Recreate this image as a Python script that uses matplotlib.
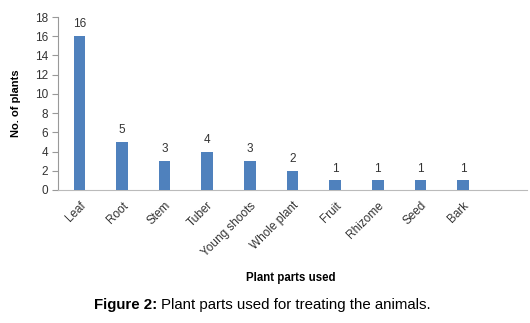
import matplotlib
matplotlib.use("Agg")
import matplotlib.pyplot as plt

categories = ["Leaf", "Root", "Stem", "Tuber", "Young shoots", "Whole plant",
              "Fruit", "Rhizome", "Seed", "Bark"]
values = [16, 5, 3, 4, 3, 2, 1, 1, 1, 1]
yticks = [0, 2, 4, 6, 8, 10, 12, 14, 16, 18]

plt.rcParams['font.family'] = ['Liberation Sans', 'DejaVu Sans']

fig = plt.figure(figsize=(5.3, 3.23), dpi=100)
ax = fig.add_axes([58/530, 1-190/323, (527-58)/530, (190-17)/323])

x = list(range(len(categories)))
ax.bar(x, values, width=0.27, color="#4F81BD", zorder=3)
for xi, v in zip(x, values):
    ax.text(xi, v + 0.6, str(v), ha="center", va="bottom", fontsize=8.5, color="#333333")

ax.set_xlim(-0.5, 10.5)
ax.set_ylim(0, 18)
ax.set_yticks(yticks)
ax.set_yticklabels([str(t) for t in yticks], fontsize=8.5, color="#333333")
ax.set_xticks(x)
ax.set_xticklabels(categories, rotation=45, ha="right", rotation_mode="anchor",
                   fontsize=8.5, color="#333333")
ax.tick_params(axis="x", length=0, pad=7)
ax.tick_params(axis="y", length=4, color="#999999", width=0.8, pad=3)
for s in ["top", "right"]:
    ax.spines[s].set_visible(False)
ax.spines["left"].set_color("#999999")
ax.spines["bottom"].set_color("#BBBBBB")
ax.spines["left"].set_linewidth(0.8)
ax.spines["bottom"].set_linewidth(0.8)

ax.set_ylabel("No. of plants", fontsize=8, fontweight="bold")
ax.yaxis.set_label_coords((21 - 58) / 469, 0.5)
fig.text(291/530, 1-278/323, "Plant parts used", ha="center", va="center",
         fontsize=8.3, fontweight="bold")

t1 = fig.text(94/530, 1-305/323, "Figure 2:", ha="left", va="center",
              fontsize=10.8, fontweight="bold")
fig.canvas.draw()
bb = t1.get_window_extent()
fig.text((bb.x1 + 4) / 530, 1-305/323, "Plant parts used for treating the animals.",
         ha="left", va="center", fontsize=10.8)

fig.savefig("out.png", dpi=100)
